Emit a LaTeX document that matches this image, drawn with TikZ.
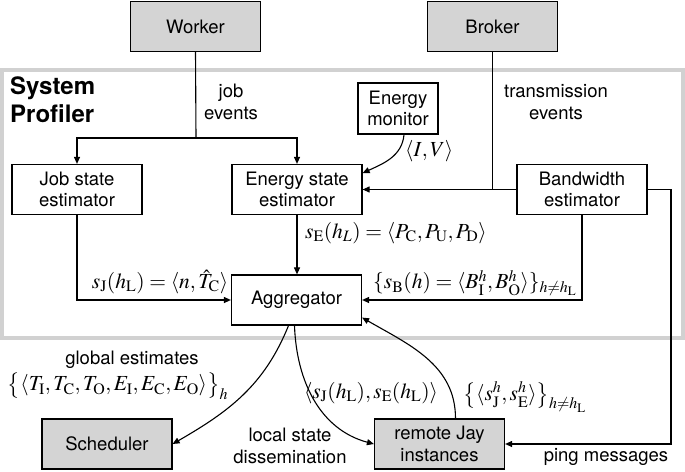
\documentclass[tikz,border=0pt]{standalone}
\usepackage{mathptmx}
\usepackage[no-math]{fontspec}
\setmainfont{TeX Gyre Heros}
\usetikzlibrary{arrows.meta,positioning}

\begin{document}
\begin{tikzpicture}[x=1pt, y=1pt,
    font=\fontsize{18.5}{21.5}\selectfont,
    blockbox/.style={draw, line width=1.2pt, minimum width=130pt, minimum height=50pt, align=center, inner sep=2pt},
    extbox/.style={blockbox, fill=black!17},
    arrow/.style={-{Triangle[length=7pt,width=6pt]}, line width=1.1pt},
    link/.style={line width=1.1pt},
    lbl/.style={align=center, inner sep=0pt},
    mathlbl/.style={lbl, font=\fontsize{21.5}{24}\selectfont}
]
\useasboundingbox (0,0) rectangle (685,-471);

% --- System Profiler frame ---
\draw[black!18, line width=3.2pt] (2,-70) rectangle (683,-338);
\node[anchor=north west, align=left, inner sep=0pt, font=\fontsize{24}{28}\selectfont\bfseries] (proftitle) at (10,-77) {System\\Profiler};

% --- External components ---
\node[extbox] (worker) at (195.5,-26.5) {Worker};
\node[extbox] (broker) at (492.5,-26.5) {Broker};
\node[extbox] (scheduler) at (107,-444) {Scheduler};
\node[extbox] (remotejay) at (439.5,-444) {remote Jay\\instances};

% --- Profiler components ---
\node[blockbox] (jobest) at (77,-189.5) {Job state\\estimator};
\node[blockbox] (energyest) at (297,-189.5) {Energy state\\estimator};
\node[blockbox, minimum width=80pt, minimum height=51pt] (enmon) at (398,-108.5) {Energy\\monitor};
\node[blockbox] (bwest) at (582,-189.5) {Bandwidth\\estimator};
\node[blockbox] (aggregator) at (296.5,-300) {Aggregator};

% --- Job events ---
\coordinate (jobsplit) at (196,-138);
\draw[link] (worker.south) -- (jobsplit);
\draw[arrow] (jobsplit) -| (jobest.north);
\draw[arrow] (jobsplit) -| (energyest.north);
\node[lbl] (joblbl) at (231,-102) {job\\events};

% --- Transmission events ---
\draw[link] (broker.south) -- (broker.south |- bwest.west);
\draw[arrow] (bwest.west) -- (bwest.west -| energyest.east);
\node[lbl] (translbl) at (556,-102) {transmission\\events};

% --- Energy monitor ---
\draw[arrow] ([xshift=6pt]enmon.south) to[out=-95,in=25] (energyest.14);
\node[mathlbl, anchor=west] (ivlbl) at (405,-151) {$\langle I, V\rangle$};

% --- Estimates to aggregator ---
\draw[arrow] (jobest.south) |- (aggregator.west);
\node[mathlbl] (sjlbl) at (160,-282) {$s_{\mathrm{J}}(h_{\mathrm{L}}) = \langle n, \hat{T}_{\mathrm{C}}\rangle$};
\draw[arrow] (energyest.south) -- (energyest.south |- aggregator.north);
\node[mathlbl, anchor=west] (selbl) at (305,-233) {$s_{\mathrm{E}}(h_L) = \langle P_{\mathrm{C}}, P_{\mathrm{U}}, P_{\mathrm{D}}\rangle$};
\draw[arrow] (bwest.south) |- (aggregator.east);
\node[mathlbl] (sblbl) at (475,-283) {$\{s_{\mathrm{B}}(h) = \langle B^h_{\mathrm{I}}, B^h_{\mathrm{O}}\rangle\}_{h\neq h_{\mathrm{L}}}$};

% --- Ping messages ---
\coordinate (pingcorner) at (671,-444);
\draw[arrow] (bwest.east) -| (pingcorner) -- (remotejay.east);
\node[lbl] (pinglbl) at (606,-457) {ping messages};

% --- Aggregator outputs ---
\draw[arrow] ([xshift=-8pt]aggregator.south) to[out=-112,in=30] (scheduler.east);
\node[lbl] (globlbl) at (132,-360) {global estimates};
\node[mathlbl] (globmath) at (118,-386) {$\bigl\{\langle T_{\mathrm{I}}, T_{\mathrm{C}}, T_{\mathrm{O}}, E_{\mathrm{I}}, E_{\mathrm{C}}, E_{\mathrm{O}}\rangle\bigr\}_h$};
\draw[arrow] ([xshift=-2pt]aggregator.south) to[out=-88,in=165] (remotejay.west);
\node[lbl] (locallbl) at (290,-446) {local state\\dissemination};
\node[mathlbl] (locmath) at (371,-393) {$\langle s_{\mathrm{J}}(h_{\mathrm{L}}), s_{\mathrm{E}}(h_{\mathrm{L}})\rangle$};
\draw[arrow] ([xshift=16pt]remotejay.north) to[out=90,in=-30] (aggregator.-15);
\node[mathlbl] (remmath) at (525,-397) {$\bigl\{\langle s^h_{\mathrm{J}}, s^h_{\mathrm{E}}\rangle\bigr\}_{h\neq h_{\mathrm{L}}}$};

\end{tikzpicture}
\end{document}
